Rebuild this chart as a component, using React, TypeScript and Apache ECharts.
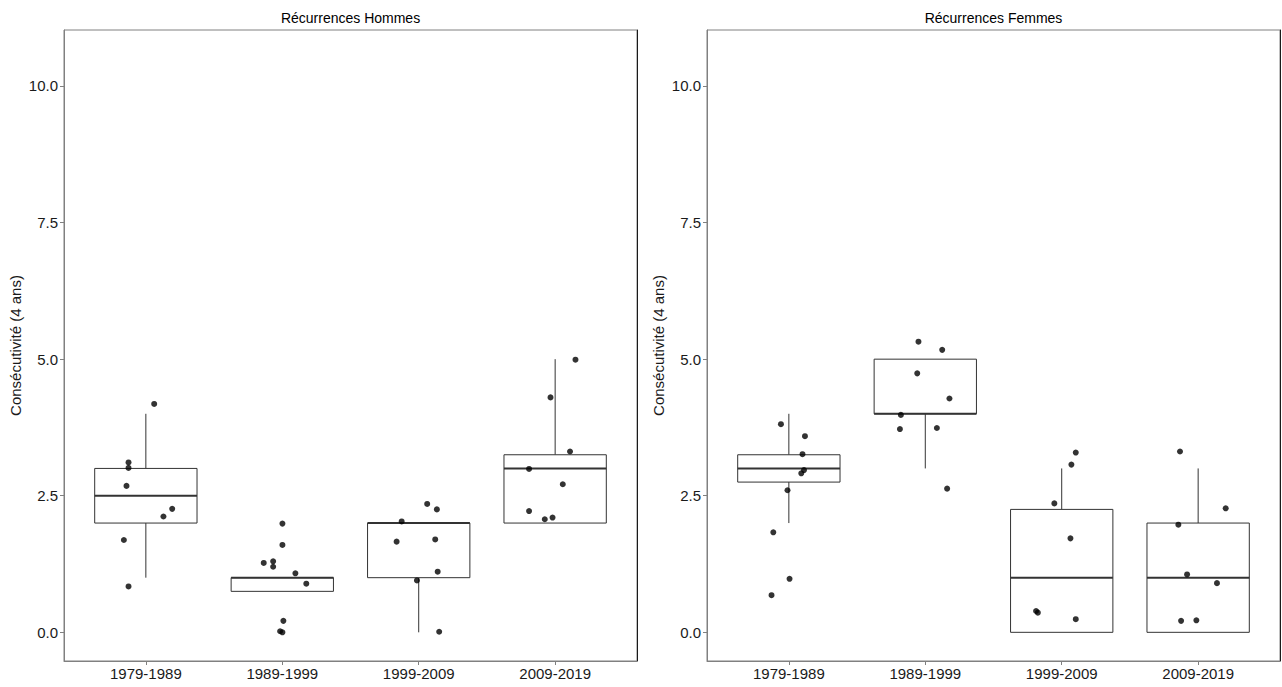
import React, { useEffect, useRef } from "react";
import * as echarts from "echarts";

const categories = ["1979-1989", "1989-1999", "1999-2009", "2009-2019"];
const yTicks = [0, 2.5, 5, 7.5, 10];
const xTicks = [1, 2, 3, 4];
const panelTitles = ["Récurrences Hommes", "Récurrences Femmes"];
const yAxisName = "Consécutivité (4 ans)";

// box stats: [low whisker, q1, median, q3, high whisker]
const hommesBoxes = [
  [1, 2, 2.5, 3, 4],
  [0.75, 0.75, 1, 1, 1],
  [0, 1, 2, 2, 2],
  [2, 2, 3, 3.25, 5],
];
const femmesBoxes = [
  [2, 2.75, 3, 3.25, 4],
  [3, 4, 4, 5, 5],
  [0, 0, 1, 2.25, 3],
  [0, 0, 1, 2, 3],
];

// jittered points [x, y]
const hommesPoints = [
  [1.061, 4.18], [0.873, 3.11], [0.873, 3.01], [0.858, 2.68], [1.193, 2.26], [1.129, 2.12], [0.839, 1.69], [0.873, 0.84],
  [2.001, 1.99], [2.001, 1.6], [1.864, 1.27], [1.933, 1.3], [1.933, 1.2], [2.096, 1.08], [2.176, 0.89], [2.008, 0.21], [1.984, 0.02], [2.001, 0.0],
  [3.062, 2.35], [3.133, 2.25], [2.875, 2.03], [2.838, 1.66], [3.121, 1.7], [3.139, 1.11], [2.987, 0.95], [3.15, 0.01],
  [4.149, 4.99], [3.966, 4.3], [4.109, 3.31], [3.809, 2.99], [4.056, 2.71], [3.809, 2.22], [3.924, 2.07], [3.981, 2.1],
];
const femmesPoints = [
  [0.942, 3.81], [1.118, 3.59], [1.1, 3.26], [1.111, 2.97], [1.091, 2.91], [0.99, 2.6], [0.886, 1.83], [1.005, 0.98], [0.873, 0.68],
  [1.95, 5.32], [2.124, 5.17], [1.941, 4.74], [2.177, 4.28], [1.821, 3.98], [1.814, 3.72], [2.085, 3.74], [2.16, 2.63],
  [3.103, 3.29], [3.071, 3.07], [2.946, 2.36], [3.064, 1.72], [2.812, 0.39], [2.825, 0.36], [3.103, 0.24],
  [3.867, 3.31], [4.202, 2.27], [3.855, 1.97], [3.919, 1.06], [4.138, 0.9], [3.875, 0.21], [3.987, 0.22],
];

const FONT = "Liberation Sans, Arial, sans-serif";
const Y_MIN = -0.525;
const Y_MAX = 11.025;

export default function App() {
  const ref = useRef<HTMLDivElement>(null);

  useEffect(() => {
    if (!ref.current) return;
    const chart = echarts.init(ref.current, null, { renderer: "svg" });

    const grids = [
      { left: 64, top: 30, width: 573, height: 631 },
      { left: 707, top: 30, width: 573, height: 631 },
    ];

    const xAxes = grids.map((_, i) => ({
      type: "value",
      gridIndex: i,
      min: 0.4,
      max: 4.6,
      axisLine: { show: true, onZero: false, lineStyle: { color: "#808080", width: 1 } },
      axisTick: { show: true, customValues: xTicks, length: 4, lineStyle: { color: "#808080" } },
      axisLabel: {
        customValues: xTicks,
        formatter: (v: number) => categories[Math.round(v) - 1] ?? "",
        fontSize: 15,
        color: "#1a1a1a",
        fontFamily: FONT,
        margin: 5,
      },
      splitLine: { show: false },
    }));

    const yAxes: any[] = [];
    grids.forEach((_, i) => {
      yAxes.push({
        type: "value",
        gridIndex: i,
        min: Y_MIN,
        max: Y_MAX,
        name: yAxisName,
        nameLocation: "middle",
        nameGap: 41,
        nameTextStyle: { fontSize: 15, color: "#1a1a1a", fontFamily: FONT },
        axisLine: { show: true, onZero: false, lineStyle: { color: "#808080", width: 1 } },
        axisTick: { show: true, customValues: yTicks, length: 4, lineStyle: { color: "#808080" } },
        axisLabel: {
          customValues: yTicks,
          formatter: (v: number) => v.toFixed(1),
          fontSize: 15,
          color: "#1a1a1a",
          fontFamily: FONT,
          margin: 6,
        },
        splitLine: { show: false },
      });
    });
    grids.forEach((_, i) => {
      yAxes.push({
        type: "value",
        gridIndex: i,
        position: "right",
        min: Y_MIN,
        max: Y_MAX,
        axisLine: { show: true, onZero: false, lineStyle: { color: "#1a1a1a", width: 1 } },
        axisTick: { show: false },
        axisLabel: { show: false },
        splitLine: { show: false },
      });
    });

    const boxSeries = (boxes: number[][], idx: number) => ({
      type: "custom",
      xAxisIndex: idx,
      yAxisIndex: idx,
      z: 2,
      data: boxes.map((b, i) => [i + 1, ...b]),
      renderItem: (_params: any, api: any) => {
        const x = api.value(0);
        const lo = api.value(1);
        const q1 = api.value(2);
        const med = api.value(3);
        const q3 = api.value(4);
        const hi = api.value(5);
        const hw = 0.375;
        const tl = api.coord([x - hw, q3]);
        const br = api.coord([x + hw, q1]);
        const mL = api.coord([x - hw, med]);
        const mR = api.coord([x + hw, med]);
        const pLo = api.coord([x, lo]);
        const pHi = api.coord([x, hi]);
        const pQ1 = api.coord([x, q1]);
        const pQ3 = api.coord([x, q3]);
        const stroke = "#333333";
        return {
          type: "group",
          children: [
            {
              type: "line",
              shape: { x1: pQ3[0], y1: pQ3[1], x2: pHi[0], y2: pHi[1] },
              style: { stroke, lineWidth: 1 },
            },
            {
              type: "line",
              shape: { x1: pQ1[0], y1: pQ1[1], x2: pLo[0], y2: pLo[1] },
              style: { stroke, lineWidth: 1 },
            },
            {
              type: "rect",
              shape: { x: tl[0], y: tl[1], width: br[0] - tl[0], height: br[1] - tl[1] },
              style: { fill: "#ffffff", stroke, lineWidth: 1 },
            },
            {
              type: "line",
              shape: { x1: mL[0], y1: mL[1], x2: mR[0], y2: mR[1] },
              style: { stroke, lineWidth: 2 },
            },
          ],
        };
      },
    });

    const pointSeries = (pts: number[][], idx: number) => ({
      type: "scatter",
      xAxisIndex: idx,
      yAxisIndex: idx,
      z: 5,
      symbol: "circle",
      symbolSize: 6,
      itemStyle: { color: "#000000" },
      data: pts,
    });

    const option: any = {
      animation: false,
      backgroundColor: "#ffffff",
      grid: grids.map((g) => ({ ...g, show: true, borderColor: "#808080", borderWidth: 1, containLabel: false })),
      xAxis: xAxes,
      yAxis: yAxes,
      graphic: panelTitles.map((t, i) => ({
        type: "text",
        x: grids[i].left + grids[i].width / 2,
        y: 18,
        style: {
          text: t,
          align: "center",
          verticalAlign: "middle",
          fontSize: 14,
          fontFamily: FONT,
          fill: "#000000",
        },
      })),
      series: [
        boxSeries(hommesBoxes, 0),
        pointSeries(hommesPoints, 0),
        boxSeries(femmesBoxes, 1),
        pointSeries(femmesPoints, 1),
      ],
    };

    chart.setOption(option);
    return () => chart.dispose();
  }, []);

  return (
    <div
      ref={ref}
      style={{ position: "fixed", left: 0, top: 0, width: 1282, height: 687, background: "#fff" }}
    />
  );
}
